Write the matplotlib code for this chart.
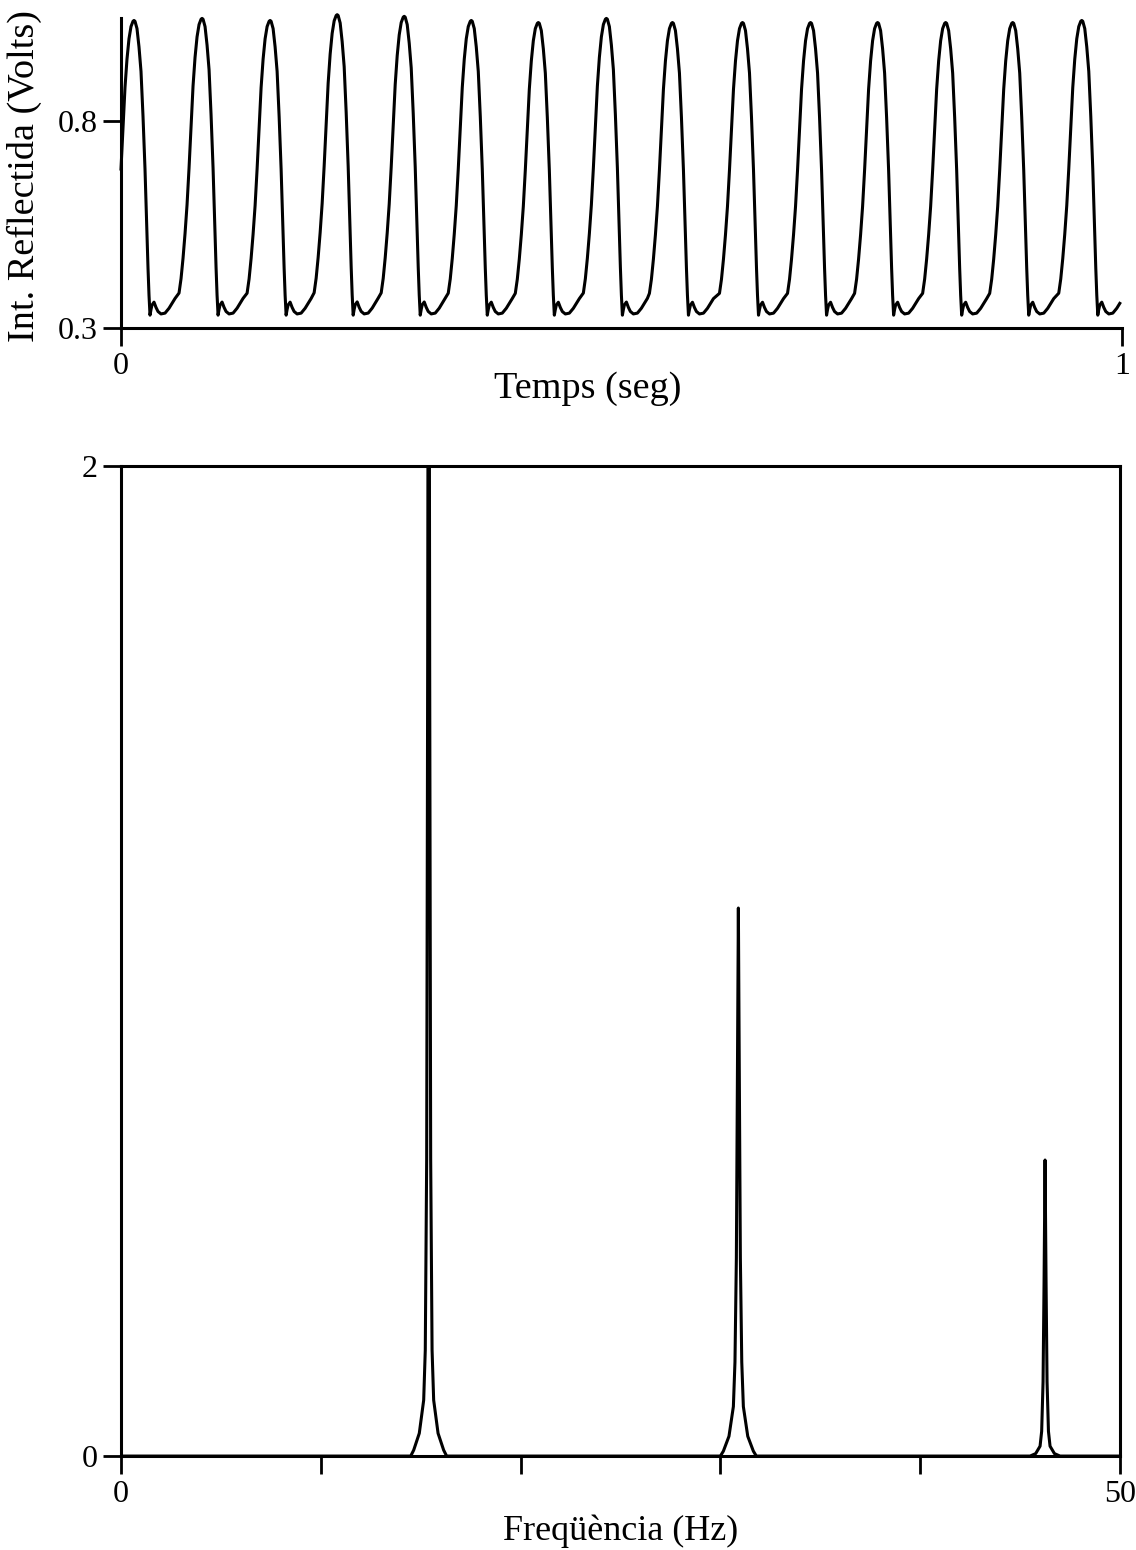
#!/usr/bin/env python3
import numpy as np
import matplotlib
matplotlib.use("Agg")
import matplotlib.pyplot as plt

plt.rcParams['font.family'] = ['Liberation Serif', 'DejaVu Serif']

# --- time signal ---
# peak instants (s) and peak voltages of each pulse
peak_times = [0.013, 0.081, 0.149, 0.216, 0.283, 0.350, 0.417, 0.485,
              0.551, 0.621, 0.689, 0.756, 0.824, 0.891, 0.960]
peak_volts = [1.044, 1.049, 1.044, 1.058, 1.054, 1.044, 1.039, 1.049,
              1.039, 1.039, 1.039, 1.039, 1.039, 1.039, 1.044]
# one pulse, offsets from the peak (s) and voltage
pulse_dt = [-0.023, -0.021, -0.019, -0.017, -0.015, -0.013, -0.011, -0.009,
            -0.007, -0.005, -0.003, -0.001, 0.0, 0.001, 0.003, 0.005,
            0.007, 0.009, 0.011, 0.013, 0.014, 0.015, 0.016, 0.017,
            0.018, 0.020, 0.022, 0.024, 0.027, 0.031, 0.035, 0.038,
            0.041, 0.044]
pulse_v = [0.385, 0.42, 0.47, 0.53, 0.60, 0.69, 0.79, 0.89,
           0.96, 1.01, 1.04, 1.053, 1.055, 1.053, 1.035, 0.99,
           0.93, 0.82, 0.69, 0.53, 0.447, 0.38, 0.331, 0.345,
           0.356, 0.363, 0.35, 0.34, 0.334, 0.336, 0.348, 0.36,
           0.372, 0.385]

# --- spectrum ---
freq_peaks = [15.4, 30.9, 46.25]
# offsets from each line centre (Hz) and amplitude of each line there
line_df = [-0.9, -0.75, -0.47, -0.25, -0.17, -0.1, -0.05, 0.0,
           0.05, 0.1, 0.17, 0.25, 0.47, 0.75, 0.9]
line1_amp = [0.0, 0.012, 0.046, 0.113, 0.214, 0.6, 1.6, 3.2,
             1.6, 0.6, 0.214, 0.113, 0.046, 0.012, 0.0]
line2_amp = [0.0, 0.01, 0.04, 0.10, 0.19, 0.4, 0.75, 1.107,
             0.75, 0.4, 0.19, 0.10, 0.04, 0.01, 0.0]
line3_amp = [0.0, 0.0, 0.005, 0.02, 0.05, 0.15, 0.35, 0.598,
             0.35, 0.15, 0.05, 0.02, 0.005, 0.0, 0.0]

# build the polyline of the time trace
t_pts, v_pts = [], []
base = min(pulse_v)
vmax = max(pulse_v)
for tp, vp in zip(peak_times, peak_volts):
    for dt, v in zip(pulse_dt[:-1], pulse_v[:-1]):
        t_pts.append(tp + dt)
        v_pts.append(base + (v - base) * (vp - base) / (vmax - base))
t_pts.append(peak_times[-1] + pulse_dt[-1])
v_pts.append(pulse_v[-1])
t_pts = np.array(t_pts)
v_pts = np.array(v_pts)
keep = (t_pts >= 0) & (t_pts <= 1.0)
t0 = np.interp(0.0, t_pts, v_pts)
t_pts = np.concatenate([[0.0], t_pts[keep]])
v_pts = np.concatenate([[t0], v_pts[keep]])

# build the spectrum polyline
f_pts, a_pts = [0.0], [0.0]
for fc, amps in zip(freq_peaks, [line1_amp, line2_amp, line3_amp]):
    for df, a in zip(line_df, amps):
        f_pts.append(fc + df)
        a_pts.append(a)
f_pts.append(50.0)
a_pts.append(0.0)

fig = plt.figure(figsize=(11.36, 15.5), dpi=100)

tick_kw = dict(direction='out', length=13, width=2, labelsize=23, pad=4)

# top panel
ax1 = fig.add_axes([0.1065, 0.7884, 0.881, 0.2])
ax1.plot(t_pts, v_pts, color='black', lw=2.2, clip_on=False)
ax1.set_xlim(0, 1)
ax1.set_ylim(0.3, 1.05)
ax1.spines['top'].set_visible(False)
ax1.spines['right'].set_visible(False)
for s in ('left', 'bottom'):
    ax1.spines[s].set_linewidth(2.2)
ax1.set_xticks([0, 1])
ax1.set_xticklabels(['0', '1'])
ax1.set_yticks([0.3, 0.8])
ax1.set_yticklabels(['0.3', '0.8'])
ax1.tick_params(**tick_kw)
ax1.set_xlabel('Temps (seg)', fontsize=27.5)
ax1.xaxis.set_label_coords(0.466, -0.14)
ax1.set_ylabel('Int. Reflectida (Volts)', fontsize=27.5)
ax1.yaxis.set_label_coords(-0.079, 0.49)

# bottom panel
ax2 = fig.add_axes([0.1065, 0.0606, 0.8794, 0.6388])
ax2.plot(f_pts, a_pts, color='black', lw=2.2)
ax2.set_xlim(0, 50)
ax2.set_ylim(0, 2)
for s in ax2.spines.values():
    s.set_linewidth(2.2)
ax2.set_xticks([0, 10, 20, 30, 40, 50])
ax2.set_xticklabels(['0', '', '', '', '', '50'])
ax2.set_yticks([0, 2])
ax2.set_yticklabels(['0', '2'])
ax2.tick_params(**tick_kw)
ax2.set_xlabel('Freqüència (Hz)', fontsize=26, labelpad=4)

fig.savefig('out.png', dpi=100)
